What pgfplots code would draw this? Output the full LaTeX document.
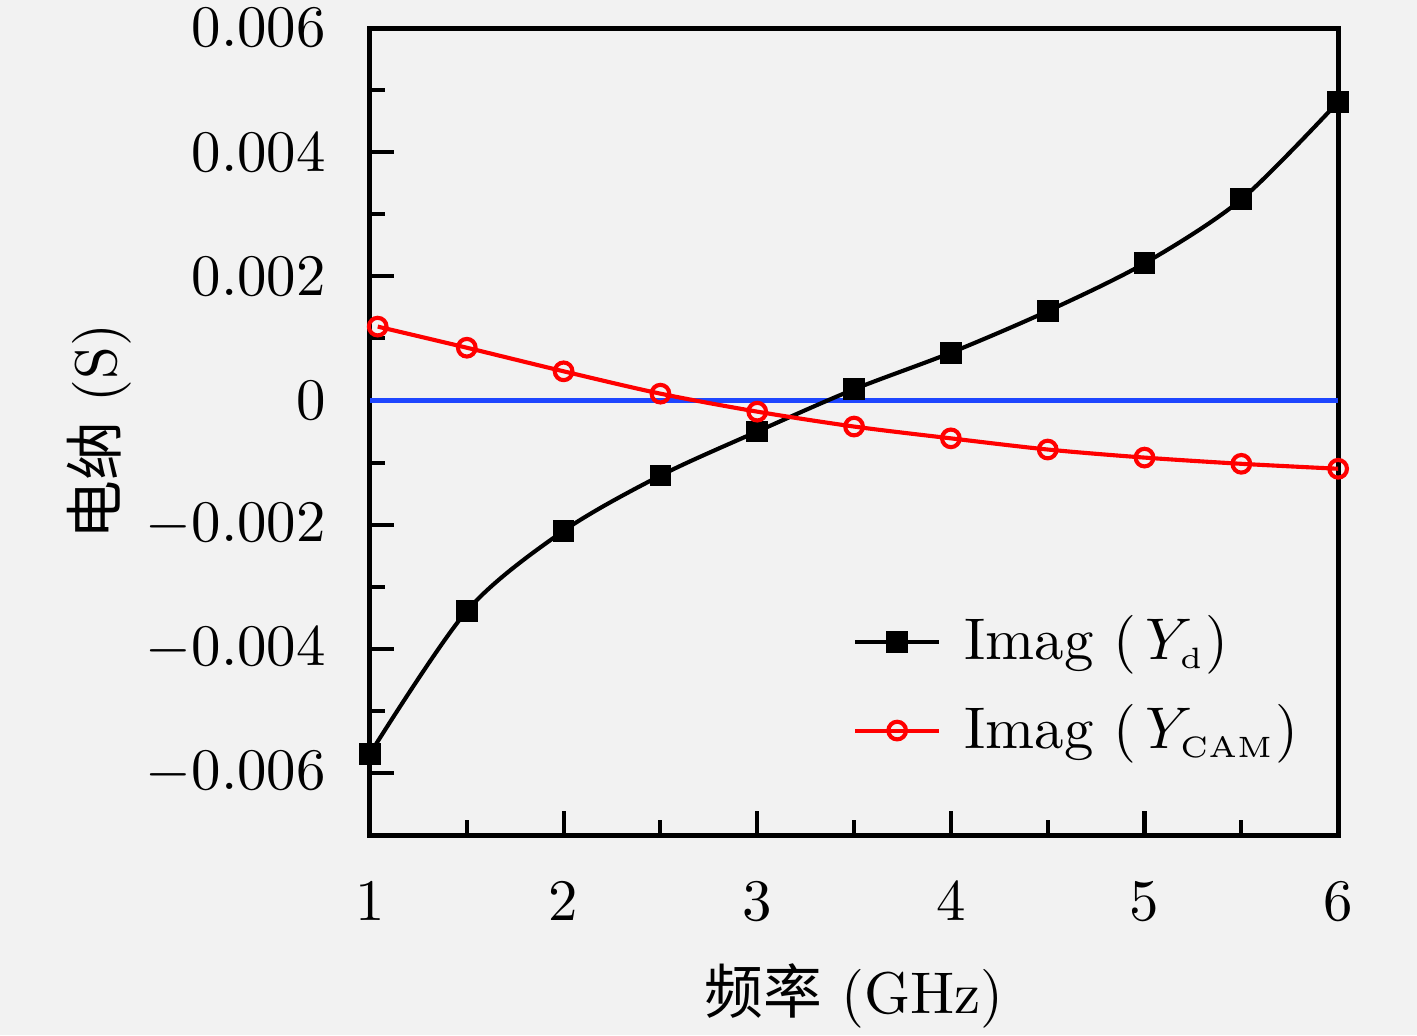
\documentclass[border=0pt]{standalone}
\usepackage{fontspec}
\usepackage{pgfplots}
\pgfplotsset{compat=1.18}
\newfontfamily\cjk{Noto Sans CJK SC}
\definecolor{bg}{RGB}{242,242,242}
\definecolor{myblue}{RGB}{30,70,255}
\pagecolor{bg}
\newcommand{\sub}[1]{\mbox{\fontsize{5}{6}\selectfont #1}}
\begin{document}
\begin{tikzpicture}
\useasboundingbox (-62.9pt,-34pt) rectangle (178pt,141.96pt);
\begin{axis}[
  at={(0,0)}, anchor=south west,
  width=164.6pt, height=137.2pt, scale only axis,
  xmin=1, xmax=6, ymin=-0.007, ymax=0.006,
  axis line style={line width=0.85pt},
  tick style={line width=0.7pt, black},
  tick align=inside,
  xtick pos=bottom, ytick pos=left,
  xtick={1,2,3,4,5,6},
  ytick={-0.006,-0.004,-0.002,0,0.002,0.004,0.006},
  yticklabels={$-0.006$,$-0.004$,$-0.002$,$0$,$0.002$,$0.004$,$0.006$},
  scaled y ticks=false,
  minor tick num=1,
  major tick length=4pt, minor tick length=2.5pt,
  xticklabel style={yshift=-4.6pt},
  yticklabel style={xshift=-4pt},
  xlabel={{\cjk 频率} (GHz)},
  ylabel={{\cjk 电纳} (S)},
  xlabel style={yshift=-0.35pt},
  ylabel style={yshift=-4.4pt},
  legend style={draw=none, fill=none, at={(0.99,0.066)}, anchor=south east,
    row sep=2pt, legend cell align=left,
    /tikz/every odd column/.append style={column sep=2pt}},
  legend image code/.code={\draw[mark repeat=2,mark phase=2] plot coordinates {(0cm,0cm) (0.25cm,0cm) (0.5cm,0cm)};},
]
\addplot[myblue, line width=0.8pt, forget plot] coordinates {(1,0) (6,0)};
\addplot[black, line width=0.7pt, smooth, mark=square*, mark size=1.5pt,
  mark options={solid, fill=black}] coordinates {
(1,-0.00569) (1.5,-0.00339) (2,-0.00210) (2.5,-0.00121) (3,-0.00050)
(3.5,0.00018) (4,0.00077) (4.5,0.00144) (5,0.00221) (5.5,0.00324) (6,0.00481)};
\addlegendentry{Imag (\,$Y_{\sub{d}}$)}
\addplot[red, line width=0.7pt, smooth, mark=o, mark size=1.5pt,
  mark options={solid, fill=white, line width=0.7pt}] coordinates {
(1.04,0.00119) (1.5,0.00085) (2,0.00047) (2.5,0.00011) (3,-0.00018)
(3.5,-0.00042) (4,-0.00061) (4.5,-0.00079) (5,-0.00092) (5.5,-0.00102) (6,-0.00110)};
\addlegendentry{Imag (\,$Y_{\sub{CAM}}$)}
\end{axis}
\end{tikzpicture}
\end{document}
